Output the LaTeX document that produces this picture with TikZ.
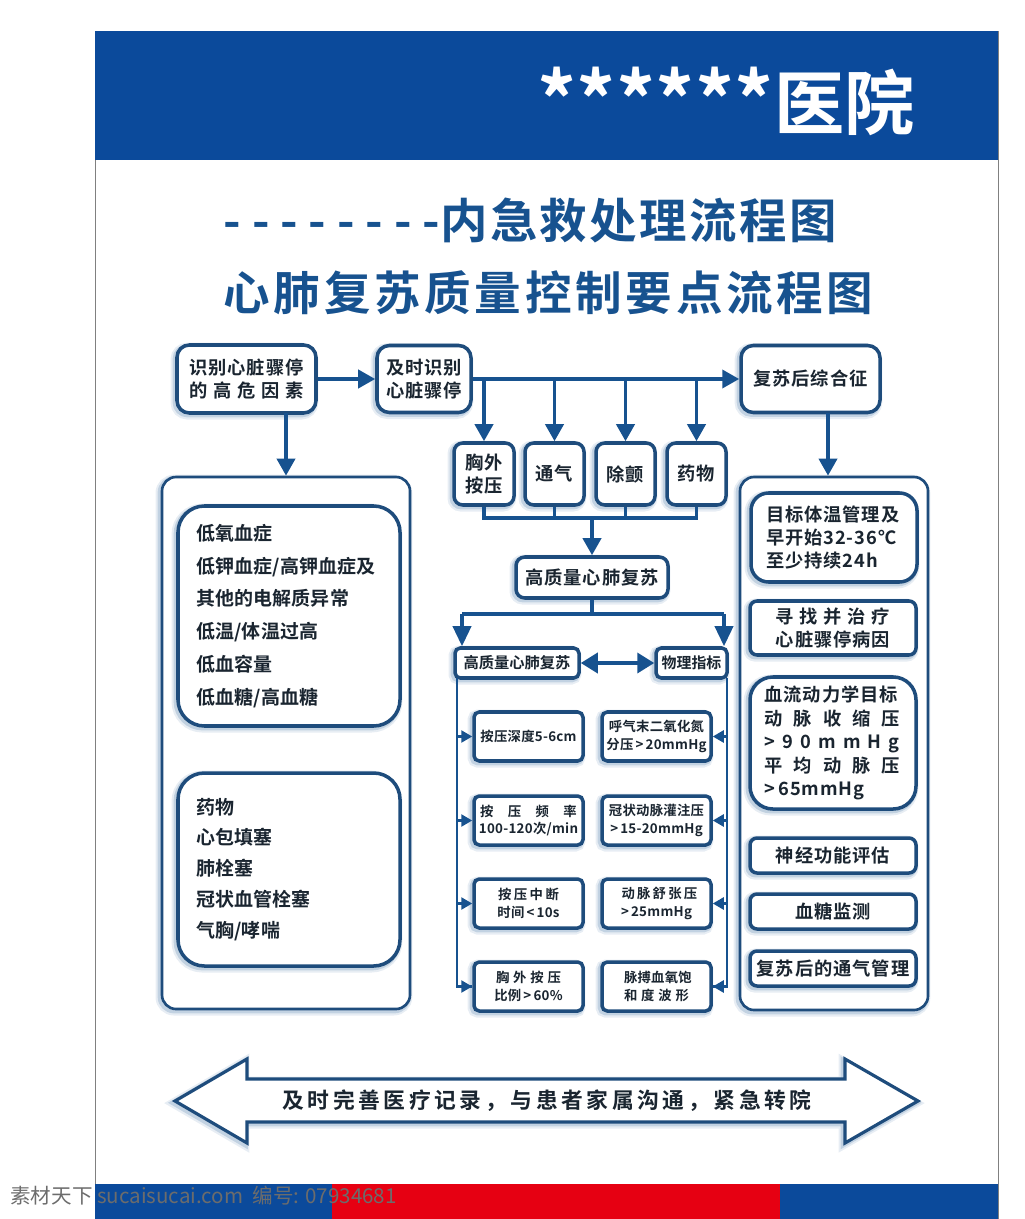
\documentclass[tikz,border=0pt]{standalone}
\usepackage{xcolor}
\usepackage{fontspec}
\usetikzlibrary{arrows.meta}
\newfontfamily\cjk{Noto Sans CJK SC}[BoldFont={Noto Sans CJK SC Bold}]
\definecolor{headblue}{HTML}{0B4A9B}
\definecolor{linkblue}{HTML}{17528F}
\definecolor{edgeblue}{HTML}{1E4C7C}
\definecolor{markred}{HTML}{E60012}
\definecolor{inkdark}{HTML}{1A2530}
\newcommand{\jline}[2]{\makebox[#1][s]{\spaceskip=0pt \xspaceskip=0pt #2}}
\newcommand{\lsp}[1]{\addfontfeature{LetterSpace=#1}}
\tikzset{
	sz/.style 2 args={minimum width=#1*0.02cm,minimum height=#2*0.02cm},
	softshadow/.style={
		preaction={draw=linkblue,line width=5pt,opacity=.1,transform canvas={xshift=-1.2pt,yshift=-1.2pt}},
		preaction={draw=linkblue,line width=3pt,opacity=.18,transform canvas={xshift=-1pt,yshift=-1pt}}},
	card/.style={draw=edgeblue,line width=2pt,fill=white,rounded corners=7pt,softshadow,inner sep=0pt,align=center,text=inkdark},
	panel/.style={card,line width=1.5pt,rounded corners=8pt},
	bigtxt/.style={font=\cjk\bfseries\fontsize{10.4}{13.3}\selectfont\lsp{5}},
	smalltxt/.style={font=\cjk\bfseries\fontsize{7.6}{10.2}\selectfont\lsp{2}},
	smallcard/.style={card,smalltxt,sz={109}{49},rounded corners=3pt},
	midcard/.style={card,bigtxt,sz={166}{35},rounded corners=4pt},
	link/.style={draw=linkblue,line width=2.1pt},
	thinlink/.style={draw=linkblue,line width=1.4pt},
	tip/.style={-{Triangle[length=17*0.02cm,width=18*0.02cm]}},
	bigtip/.style={-{Triangle[length=20*0.02cm,width=18*0.02cm]}},
	smalltip/.style={-{Triangle[length=11*0.02cm,width=12*0.02cm]}}
}
\begin{document}
\begin{tikzpicture}[x=0.02cm,y=-0.02cm]
	\useasboundingbox (0,0) rectangle (1024,1219);
	% page and bands
	\draw[gray,line width=.5pt] (95,31) rectangle (998,1219);
	\fill[headblue] (95,31) rectangle (998,160);
	\fill[headblue] (95,1184) rectangle (332,1219);
	\fill[markred] (332,1184) rectangle (780,1219);
	\fill[headblue] (780,1184) rectangle (998,1219);
	\node[text=white,anchor=east,font=\cjk\bfseries] (hospital) at (921,101) {\fontsize{44}{44}\selectfont{\lsp{0.5}******}\fontsize{40}{44}\selectfont 医院};
	\node[text=linkblue,font=\cjk\bfseries\fontsize{27}{30}\selectfont] (title1) at (530,220) {{\lsp{23}--------}{\lsp{5}内急救处理流程图}};
	\node[text=linkblue,font=\cjk\bfseries\fontsize{26.5}{30}\selectfont\lsp{8}] (title2) at (548.5,293) {心肺复苏质量控制要点流程图};
	% top row
	\node[card,bigtxt,sz={139}{68}] (risk) at (246.5,379) {识别心脏骤停\\\jline{65pt}{的 高 危 因 素}};
	\node[card,bigtxt,sz={94}{67}] (find) at (424,379) {及时识别\\心脏骤停};
	\node[card,bigtxt,sz={139}{67}] (after) at (810.5,379) {复苏后综合征};
	% four actions
	\node[card,bigtxt,sz={60}{62},rounded corners=5pt] (press) at (484,474) {胸外\\按压};
	\node[card,bigtxt,sz={59}{62},rounded corners=5pt] (air) at (554.5,474) {通气};
	\node[card,bigtxt,sz={59}{62},rounded corners=5pt] (shock) at (625.5,474) {除颤};
	\node[card,bigtxt,sz={59}{62},rounded corners=5pt] (drug) at (696.5,474) {药物};
	\node[card,bigtxt,sz={152}{41},rounded corners=5pt] (cpr) at (592,577.5) {高质量心肺复苏};
	\node[card,font=\cjk\bfseries\fontsize{8.7}{11}\selectfont,sz={124}{30},rounded corners=3pt] (cprsub) at (517,663) {高质量心肺复苏};
	\node[card,font=\cjk\bfseries\fontsize{8.5}{11}\selectfont,sz={71}{30},rounded corners=3pt] (index) at (691.5,663) {物理指标};
	% side panels
	\node[panel,sz={248}{532}] (leftpanel) at (286,743) {};
	\node[panel,sz={188}{533}] (rightpanel) at (834,743.5) {};
	\node[card,sz={222}{220},rounded corners=15pt,align=left,font=\cjk\bfseries\fontsize{10.8}{18.7}\selectfont\lsp{1},text width=186*0.02cm] (causea) at (289,616) {低氧血症\\低钾血症/高钾血症及\\其他的电解质异常\\低温/体温过高\\低血容量\\低血糖/高血糖};
	\node[card,sz={222}{193},rounded corners=15pt,align=left,font=\cjk\bfseries\fontsize{10.8}{17.6}\selectfont\lsp{1},text width=186*0.02cm] (causeb) at (289,869.5) {药物\\心包填塞\\肺栓塞\\冠状血管栓塞\\气胸/哮喘};
	\node[card,bigtxt,sz={166}{89},rounded corners=10pt,align=left,text width=136*0.02cm] (goal1) at (834,537.5) {目标体温管理及\\早开始32-36℃\\至少持续24h};
	\node[midcard,sz={166}{54}] (goal2) at (833,628) {\jline{65pt}{寻 找 并 治 疗}\\心脏骤停病因};
	\node[card,bigtxt,sz={166}{132},rounded corners=13pt,align=left,text width=137*0.02cm] (goal3) at (833,743) {血流动力学目标\\\jline{77pt}{动 脉 收 缩 压}\\\jline{77pt}{> 9 0 m m H g}\\\jline{77pt}{平 均 动 脉 压}\\>\,65mmHg};
	\node[midcard] (goal4) at (833,855.5) {神经功能评估};
	\node[midcard] (goal5) at (833,911.5) {血糖监测};
	\node[midcard] (goal6) at (833,968.5) {复苏后的通气管理};
	% small cards
	\node[smallcard] (depth) at (528.5,736.5) {按压深度5-6cm};
	\node[smallcard] (rate) at (528.5,820.5) {\jline{55pt}{按 压 频 率}\\100-120次/min};
	\node[smallcard] (pause) at (528.5,903.5) {\jline{34.6pt}{按 压 中 断}\\时间\,<\,10s};
	\node[smallcard] (ratio) at (528.5,986.5) {\jline{37pt}{胸 外 按 压}\\比例\,>\,60\%};
	\node[smallcard] (etco) at (656.5,736.5) {呼气末二氧化氮\\分压\,>\,20mmHg};
	\node[smallcard] (perf) at (656.5,820.5) {冠状动脉灌注压\\>\,15-20mmHg};
	\node[smallcard] (diast) at (656.5,903.5) {\jline{39.7pt}{动 脉 舒 张 压}\\>\,25mmHg};
	\node[smallcard] (spo) at (656.5,986.5) {\jline{37pt}{脉搏血氧饱}\\\jline{37pt}{和 度 波 形}};
	% connectors
	\coordinate (dropl) at (286,413);
	\coordinate (dropr) at (828,413);
	\draw[link,tip] (risk.east) -- (find.west);
	\draw[link,tip] (find.east) -- (after.west);
	\draw[link,tip] (dropl) -- (dropl |- leftpanel.north);
	\draw[link,tip] (dropr) -- (dropr |- rightpanel.north);
	\foreach \act in {press,air,shock,drug}
		\draw[link,tip] (\act.north |- find.east) -- (\act.north);
	\coordinate (joina) at (592,518);
	\draw[link] (press.south) |- (joina) -| (drug.south);
	\draw[link] (air.south) -- (air.south |- joina);
	\draw[link] (shock.south) -- (shock.south |- joina);
	\draw[link,tip] (joina) -- (cpr.north);
	\coordinate (forkl) at (462,614);
	\coordinate (forkr) at (724,614);
	\draw[link] (cpr.south) -- (cpr.south |- forkl);
	\draw[link] (forkl) -- (forkr);
	\draw[link,bigtip] (forkl) -- (forkl |- cprsub.north);
	\draw[link,bigtip] (forkr) -- (forkr |- index.north);
	\draw[link,{Triangle[length=17*0.02cm,width=20*0.02cm]}-{Triangle[length=17*0.02cm,width=20*0.02cm]}] (cprsub.east) -- (index.west);
	\coordinate (railr) at (727,678);
	\coordinate (raill) at (457,678);
	\draw[thinlink] (raill) |- (ratio.west);
	\draw[thinlink] (railr) |- (spo.east);
	\foreach \itm in {depth,rate,pause,ratio}
		\draw[thinlink,smalltip] (raill |- \itm.west) -- (\itm.west);
	\foreach \itm in {etco,perf,diast,spo}
		\draw[thinlink,smalltip] (railr |- \itm.east) -- (\itm.east);
	% bottom arrow
	\draw[draw=edgeblue,line width=1.8pt,fill=white,miter limit=4,softshadow] (175,1101) -- (247,1059) -- (247,1079) -- (845,1079) -- (845,1059) -- (918,1101) -- (845,1143) -- (845,1122) -- (247,1122) -- (247,1143) -- cycle;
	\node[text=inkdark,font=\cjk\bfseries\fontsize{12.4}{14}\selectfont\lsp{16.5}] (record) at (547,1101) {及时完善医疗记录，与患者家属沟通，紧急转院};
	\node[text=gray!85!black,anchor=west,font=\cjk\fontsize{11.7}{13}\selectfont,inner sep=0pt] (stamp) at (10,1196) {素材天下 sucaisucai.com\ \ 编号: 07934681};
\end{tikzpicture}
\end{document}
